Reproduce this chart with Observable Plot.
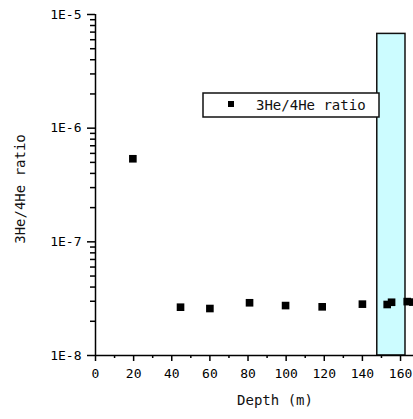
<!DOCTYPE html>
<html>
<head>
<meta charset="utf-8">
<script src="https://cdn.jsdelivr.net/npm/d3@7"></script>
<script src="https://cdn.jsdelivr.net/npm/@observablehq/plot@0.6"></script>
<style>
  html, body { margin: 0; padding: 0; background: #fff; overflow: hidden; }
  svg { display: block; }
</style>
</head>
<body>
<div id="chart"></div>
<script>
// Data
const depth = [19.6, 44.6, 60.0, 80.8, 99.7, 118.9, 140.0, 153.0, 155.3, 163.5, 166.5];
const ratio = [5.38e-7, 2.66e-8, 2.59e-8, 2.91e-8, 2.75e-8, 2.68e-8, 2.83e-8, 2.81e-8, 2.94e-8, 2.98e-8, 2.95e-8];
const zoneX = [147.8, 162.6];
const zoneY = [1e-8, 6.75e-6];
const yMajor = [1e-8, 1e-7, 1e-6, 1e-5];
const yMinor = [];
for (let e = -8; e < -5; e++) for (let m = 2; m <= 9; m++) yMinor.push(m * Math.pow(10, e));
const xMajor = [0, 20, 40, 60, 80, 100, 120, 140, 160];
const xMinor = [10, 30, 50, 70, 90, 110, 130, 150];
const legendLabel = "3He/4He ratio";
const xTitle = "Depth (m)";
const yTitle = "3He/4He ratio";

const points = depth.map((d, i) => ({depth: d, ratio: ratio[i]}));
const font = "DejaVu Sans Mono";

const W = 413, H = 419, ML = 95, MT = 14, MB = 64;
const xMax = 166.8;

const plot = Plot.plot({
  width: W,
  height: H,
  marginLeft: ML,
  marginRight: 0,
  marginTop: MT,
  marginBottom: MB,
  style: {fontFamily: font, fontSize: "13px", color: "#000", background: "#fff", overflow: "visible"},
  x: {domain: [0, xMax]},
  y: {type: "log", domain: [1e-8, 1e-5]},
  marks: [
    Plot.rect([{x1: zoneX[0], x2: zoneX[1], y1: zoneY[0], y2: zoneY[1]}],
      {x1: "x1", x2: "x2", y1: "y1", y2: "y2", fill: "#ccfcff", stroke: "#111", strokeWidth: 1.5}),
    Plot.axisY({ticks: yMinor, tickSize: 5, tickFormat: null, text: null, label: null, strokeWidth: 1.5}),
    Plot.axisY({ticks: yMajor, tickSize: 8, tickPadding: 6, strokeWidth: 1.5, label: null,
      tickFormat: d => "1E" + Math.round(Math.log10(d)), fontSize: 13}),
    Plot.axisX({ticks: xMinor, tickSize: 3, text: null, label: null, strokeWidth: 1.5}),
    Plot.axisX({ticks: xMajor, tickSize: 6, tickPadding: 7, strokeWidth: 1.5, label: null, fontSize: 13}),
    Plot.ruleX([0], {y1: 1e-8, y2: 1e-5, stroke: "#000", strokeWidth: 1.5}),
    Plot.ruleY([1e-8], {stroke: "#000", strokeWidth: 1.5}),
    Plot.dot(points, {x: "depth", y: "ratio", symbol: "square", r: 4.3, fill: "#000", stroke: null})
  ]
});

const svg = d3.select(plot);
// Axis titles
svg.append("text")
  .attr("x", 275).attr("y", 400)
  .attr("text-anchor", "middle").attr("dominant-baseline", "central")
  .attr("font-family", font).attr("font-size", 14).attr("fill", "#111")
  .text(xTitle);
svg.append("text")
  .attr("transform", "translate(20,189) rotate(-90)")
  .attr("text-anchor", "middle").attr("dominant-baseline", "central")
  .attr("font-family", font).attr("font-size", 14).attr("fill", "#111")
  .text(yTitle);
// Legend box
const lg = svg.append("g");
lg.append("rect").attr("x", 203).attr("y", 93).attr("width", 176).attr("height", 24)
  .attr("fill", "#fff").attr("stroke", "#111").attr("stroke-width", 1.5);
lg.append("rect").attr("x", 228).attr("y", 101).attr("width", 6).attr("height", 6).attr("fill", "#000");
lg.append("text").attr("x", 256).attr("y", 105).attr("dominant-baseline", "central")
  .attr("text-anchor", "start")
  .attr("font-family", font).attr("font-size", 14).attr("fill", "#111").text(legendLabel);

document.getElementById("chart").appendChild(plot);
</script>
</body>
</html>
